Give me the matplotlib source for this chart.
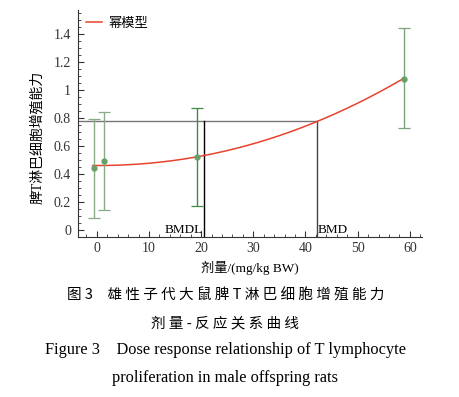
import matplotlib
matplotlib.use("Agg")
import matplotlib.pyplot as plt
import numpy as np
from matplotlib.ticker import MultipleLocator

plt.rcParams['font.family'] = ['Liberation Serif', 'Noto Sans CJK SC']

# dose groups (as plotted, slightly offset) and response
dose = [-0.6, 1.3, 19.2, 58.8]
mean = [0.44, 0.49, 0.52, 1.08]
upper = [0.79, 0.84, 0.87, 1.44]
lower = [0.085, 0.14, 0.17, 0.73]
bar_colors = ["#8aab88", "#8aab88", "#3f8a45", "#7ea37c"]

# power model fit y = a + b * x^n
pow_a, pow_b, pow_n = 0.46, 0.0001407, 2.06
curve_start, curve_end = -0.8, 58.8

bmdl = 20.5
bmd = 42.3
bmr_level = 0.775

fig = plt.figure(figsize=(4.6, 3.97), dpi=100)
ax = fig.add_axes([0.1696, 0.403, 0.7474, 0.572])

xc = np.linspace(curve_start, curve_end, 200)
yc = pow_a + pow_b * np.abs(xc) ** pow_n
ax.plot(xc, yc, color="#e8432e", lw=1.1, label="幂模型", zorder=3)

for x, m, u, l, c in zip(dose, mean, upper, lower, bar_colors):
    ax.errorbar([x], [m], yerr=[[m - l], [u - m]], fmt="o", color=c,
                ms=3.5, mfc="#6a9e68", mec="#6a9e68", ecolor=c, elinewidth=1.0,
                capsize=4, capthick=0.9, zorder=4)

# BMD / BMDL guide lines
ax.plot([-3.6, bmd], [bmr_level, bmr_level], color="#777777", lw=1.0, zorder=2)
ax.plot([bmdl, bmdl], [-0.05, bmr_level], color="black", lw=1.0, zorder=2)
ax.plot([bmd, bmd], [-0.05, bmr_level], color="#444444", lw=1.0, zorder=2)
ax.text(bmdl - 0.2, -0.045, "BMDL", ha="right", va="bottom", fontsize=9.5)
ax.text(bmd + 0.1, -0.045, "BMD", ha="left", va="bottom", fontsize=9.5)

ax.set_xlim(-3.6, 62.3)
ax.set_ylim(-0.05, 1.57)
ax.set_xticks([0, 10, 20, 30, 40, 50, 60])
ax.set_yticks([0, 0.2, 0.4, 0.6, 0.8, 1.0, 1.2, 1.4])
ax.set_yticklabels(["0", "0.2", "0.4", "0.6", "0.8", "1", "1.2", "1.4"])
ax.xaxis.set_minor_locator(MultipleLocator(2))
ax.yaxis.set_minor_locator(MultipleLocator(0.05))
ax.tick_params(which="both", direction="in", labelsize=10, colors="#333333")
ax.tick_params(which="major", length=4)
ax.tick_params(which="minor", length=2)
ax.tick_params(axis="y", pad=5)
for s in ["top", "right"]:
    ax.spines[s].set_visible(False)
for s in ["left", "bottom"]:
    ax.spines[s].set_color("#333333")

ax.set_xlabel("剂量/(mg/kg BW)", fontsize=9.5, labelpad=4)
ax.set_ylabel("脾T淋巴细胞增殖能力", fontsize=10)
ax.yaxis.set_label_coords(-0.10, 0.44)

ax.legend(loc="upper left", frameon=False, fontsize=9.5, handlelength=1.2,
          borderaxespad=0.2, handletextpad=0.5)

fig.text(0.49, 0.257, "图 3　雄 性 子 代 大 鼠 脾 T 淋 巴 细 胞 增 殖 能 力",
         ha="center", va="center", fontsize=10.5,
         family=["Noto Sans CJK SC", "DejaVu Sans"])
fig.text(0.49, 0.186, "剂 量 - 反 应 关 系 曲 线", ha="center", va="center",
         fontsize=10.5, family=["Noto Sans CJK SC", "DejaVu Sans"])
fig.text(0.49, 0.118, "Figure 3    Dose response relationship of T lymphocyte",
         ha="center", va="center", fontsize=11.8)
fig.text(0.49, 0.048, "proliferation in male offspring rats",
         ha="center", va="center", fontsize=11.8)

fig.savefig("out.png", dpi=100)
